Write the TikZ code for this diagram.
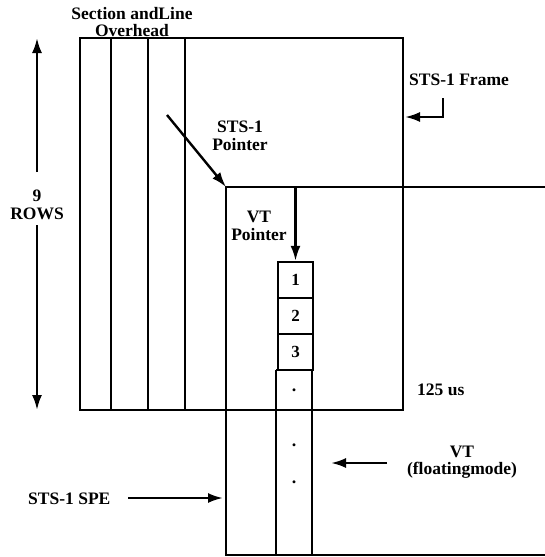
\documentclass[tikz,border=0pt]{standalone}
\usepackage{fontspec}
\setmainfont{Liberation Serif}
\usetikzlibrary{arrows.meta}
\begin{document}
\begin{tikzpicture}[x=1pt,y=-1pt,
  thick line/.style={line width=2.8pt},
  arr/.style={line width=2.4pt,-{Latex[length=15pt,width=10pt]}},
  lbl/.style={font=\bfseries\fontsize{17.5}{17.5}\selectfont,align=center,inner sep=0pt},
  vtbox/.style={draw,line width=2.4pt,minimum width=35pt,minimum height=36pt,inner sep=0pt,
    font=\bfseries\fontsize{17}{17}\selectfont},
  dotl/.style={font=\bfseries\fontsize{18}{18}\selectfont,inner sep=0pt}]
\useasboundingbox (0,0) rectangle (545,557);
% STS-1 frame
\draw[thick line] (80,38) rectangle (403,410);
\foreach \x in {111,148,185} \draw[thick line] (\x,38) -- (\x,410);
% SPE
\coordinate (speTL) at (226,187);
\draw[thick line] (545,187) -- (speTL) -- (226,555) -- (545,555);
% VT column
\draw[thick line] (276,370) -- (312,370);
\draw[thick line] (276,370) -- (276,555);
\draw[thick line] (312,370) -- (312,555);
\node[vtbox] (b1) at (295.5,280) {1};
\node[vtbox] (b2) at (295.5,316) {2};
\node[vtbox] (b3) at (295.5,352) {3};
\node[dotl] (d1) at (294,390) {.};
\node[dotl] (d2) at (294,445) {.};
\node[dotl] (d3) at (294,482) {.};
% labels
\node[lbl] (soh) at (132,22) {Section andLine\\Overhead};
\node[lbl] (rows) at (37,205) {9\\ROWS};
\coordinate (rowtop) at (37,38);
\coordinate (rowbot) at (37,410);
\draw[arr] (rows.north |- 0,172) -- (rowtop);
\draw[arr] (rows.south |- 0,225) -- (rowbot);
\node[lbl] (stsp) at (240,136) {STS-1\\Pointer};
\coordinate (stspstart) at (167,115);
\draw[arr] (stspstart) -- (speTL);
\node[lbl] (vtp) at (259,226) {VT\\Pointer};
\coordinate (vtpstart) at (295.5,187);
\draw[arr] (vtpstart) -- (b1.north);
\node[lbl,anchor=base west] (frame) at (409,85) {STS-1 Frame};
\coordinate (fr1) at (443,98);
\coordinate (fr2) at (443,117);
\coordinate (frend) at (405,117);
\draw[arr] (fr1) -- (fr2) -- (frend);
\node[lbl,anchor=base west] (us) at (417,395) {125 us};
\node[lbl] (vtf) at (462,462) {VT\\(floatingmode)};
\coordinate (vtfstart) at (387,463);
\coordinate (vtfend) at (331,463);
\draw[arr] (vtfstart) -- (vtfend);
\node[lbl,anchor=base west] (spe) at (28,504) {STS-1 SPE};
\coordinate (spestart) at (128,498);
\coordinate (speend) at (223,498);
\draw[arr] (spestart) -- (speend);
\end{tikzpicture}
\end{document}
